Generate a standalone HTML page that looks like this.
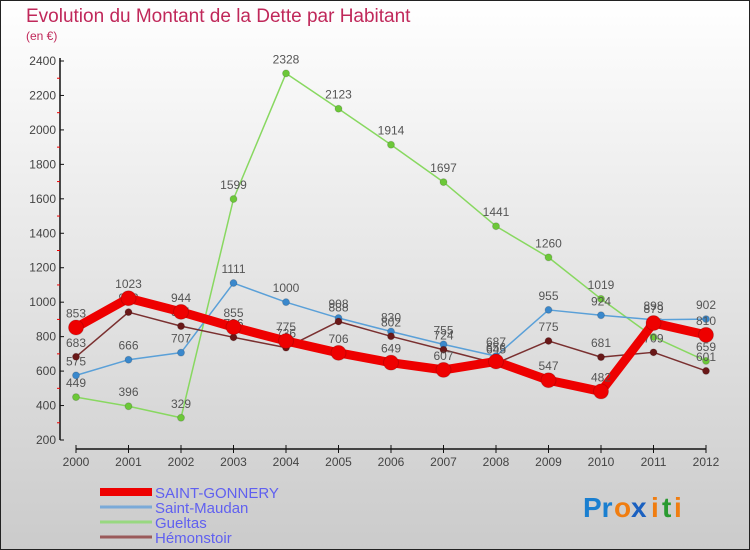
<!DOCTYPE html>
<html><head><meta charset="utf-8"><style>
body{margin:0;}
#wrap{width:750px;height:550px;position:relative;overflow:hidden;}
svg text{font-family:"Liberation Sans",sans-serif;}
</style></head><body>
<div id="wrap">
<svg id="chart" width="750" height="550" xmlns="http://www.w3.org/2000/svg">
<defs><linearGradient id="bg" x1="0" y1="0" x2="0" y2="1"><stop offset="0" stop-color="#ffffff"/><stop offset="1" stop-color="#cbcbcb"/></linearGradient></defs>
<rect x="0.5" y="0.5" width="749" height="549" fill="url(#bg)" stroke="#222"/>
<text x="26" y="22" font-size="19" fill="#c0285a">Evolution du Montant de la Dette par Habitant</text>
<text x="26" y="40" font-size="12" fill="#c0285a">(en €)</text>
<g id="axes"></g><g id="series"></g><g id="legend"></g>
<g font-size="28" font-weight="bold">
<text x="583" y="517" fill="#1a7fd0">Pr</text><text x="614" y="517" fill="#f07d10">o</text><text x="631" y="517" fill="#1a60c0">x</text><text x="651" y="517" fill="#f07d10">i</text><text x="662" y="517" fill="#2a9a30">t</text><text x="674" y="517" fill="#f07d10">i</text>
</g>
</svg></div>
<script>
const years=["2000","2001","2002","2003","2004","2005","2006","2007","2008","2009","2010","2011","2012"];
const yTicks=[200,400,600,800,1000,1200,1400,1600,1800,2000,2200,2400];
const saintGonnery=[853,1023,944,855,775,706,649,607,656,547,482,879,810];
const saintMaudan=[575,666,707,1111,1000,908,830,755,687,955,924,898,902];
const gueltas=[449,396,329,1599,2328,2123,1914,1697,1441,1260,1019,798,659];
const hemonstoir=[683,942,861,796,736,888,802,724,645,775,681,709,601];
const NS="http://www.w3.org/2000/svg";
function X(i){return 76+i*(706-76)/(years.length-1);}
function Y(v){return 440-(v-200)*(440-61)/2200;}
function mk(tag,attrs,parent){const e=document.createElementNS(NS,tag);for(const k in attrs)e.setAttribute(k,attrs[k]);parent.appendChild(e);return e;}
const axes=document.getElementById('axes');
let a=mk('line',{x1:60,y1:58,x2:60,y2:440,stroke:'#111','stroke-width':1.5},axes);


a=mk('line',{x1:76,y1:449,x2:706,y2:449,stroke:'#111','stroke-width':1.5},axes);


yTicks.forEach((v,i)=>{
  mk('line',{x1:60,y1:Y(v),x2:64,y2:Y(v),stroke:'#111'},axes);
  if(i<yTicks.length-1){mk('line',{x1:57,y1:Y(v+100),x2:60,y2:Y(v+100),stroke:'#e00'},axes);}
  const t=mk('text',{x:56,y:Y(v)+4,'font-size':12,fill:'#444','text-anchor':'end'},axes);
  t.textContent=v;
  
  
});
years.forEach((y,i)=>{
  mk('line',{x1:X(i),y1:445,x2:X(i),y2:453,stroke:'#111'},axes);
  const t=mk('text',{x:X(i),y:466,'font-size':12,fill:'#444','text-anchor':'middle'},axes);
  t.textContent=y;
  
  
});
const ser=document.getElementById('series');
const defs=[
 {name:'gueltas',data:gueltas,color:'#88d860',w:1.5,r:3.5,dot:'#6cc838'},
 {name:'saint-maudan',data:saintMaudan,color:'#5aa0d8',w:1.5,r:3.5,dot:'#3a88cc'},
 {name:'hemonstoir',data:hemonstoir,color:'#7a3030',w:1.5,r:3.5,dot:'#6a1818'},
 {name:'saint-gonnery',data:saintGonnery,color:'#ee0000',w:9,r:7.5,dot:'#ee0000'}
];
defs.forEach(d=>{
  const g=mk('g',{},ser);
  
  
  const p=mk('polyline',{points:d.data.map((v,i)=>X(i)+','+Y(v)).join(' '),fill:'none',stroke:d.color,'stroke-width':d.w,'stroke-linejoin':'round'},g);
  
  
  d.data.forEach((v,i)=>{
    const c=mk('circle',{cx:X(i),cy:Y(v),r:d.r,fill:d.dot,stroke:'rgba(0,0,0,0.15)'},g);
    
    
    const t=mk('text',{x:X(i),y:Y(v)-10,'font-size':12,fill:'#555','text-anchor':'middle'},g);
    t.textContent=v;
    
    
  });
});
const leg=document.getElementById('legend');
const legItems=[['SAINT-GONNERY','#ee0000',8],['Saint-Maudan','#7aaad8',3],['Gueltas','#98d880',3],['Hémonstoir','#9a5a5a',3]];
legItems.forEach((l,i)=>{
  const y=492+i*15;
  const g=mk('g',{},leg);
  
  
  mk('line',{x1:100,y1:y,x2:152,y2:y,stroke:l[1],'stroke-width':l[2]},g);
  const t=mk('text',{x:155,y:y+6,'font-size':15,fill:'#6060f0'},g);
  t.textContent=l[0];
});
</script>
</body></html>
